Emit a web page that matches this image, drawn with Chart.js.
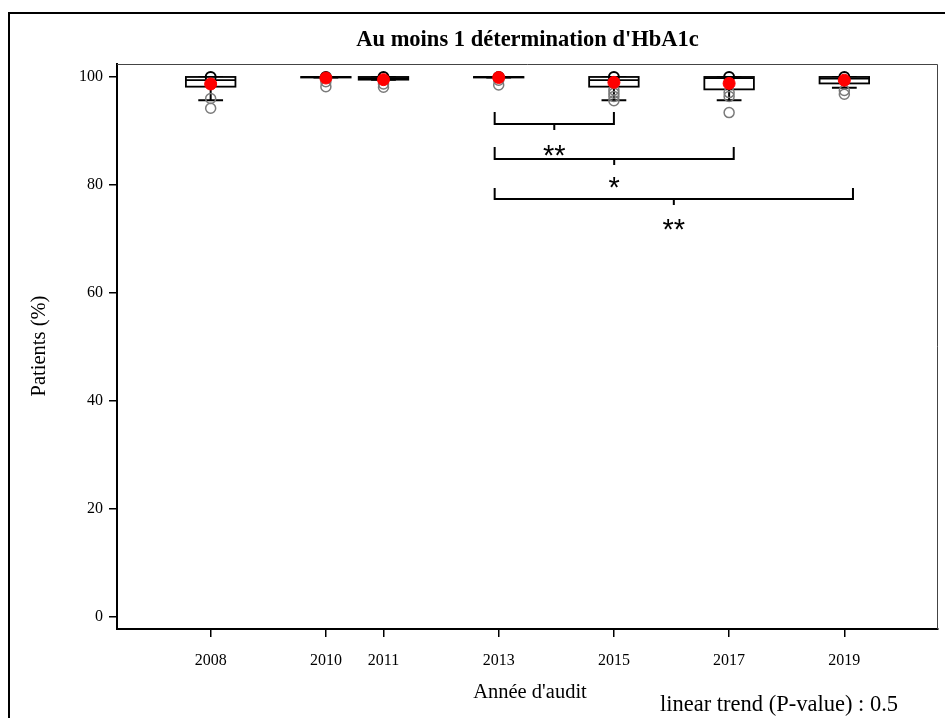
<!DOCTYPE html>
<html>
<head>
<meta charset="utf-8">
<script src="https://cdn.jsdelivr.net/npm/chart.js@4/dist/chart.umd.min.js"></script>
<style>
  html, body { margin: 0; padding: 0; background: #fff; }
  canvas { display: block; }
</style>
</head>
<body>
<canvas id="hba1c" width="945" height="718"></canvas>
<script>
// audit years and box summaries (% patients)
const years = [2008, 2010, 2011, 2013, 2015, 2017, 2019];
const q1 = [98.2, 99.9, 99.5, 99.9, 98.2, 97.7, 98.8];
const median = [99.4, 100, 99.8, 100, 99.4, 99.8, 99.7];
const q3 = [100, 100, 100, 100, 100, 100, 100];
const whiskerLow = [95.7, 99.9, 99.5, 99.9, 95.7, 95.7, 98.0];
const whiskerHigh = [100, 100, 100, 100, 100, 100, 100];
const means = [98.7, 99.8, 99.5, 99.9, 99.0, 98.8, 99.4];

// outliers
const outlierYears = [2008, 2008, 2010, 2010, 2011, 2011, 2013, 2013, 2015, 2015, 2015, 2015, 2017, 2017, 2017, 2019, 2019];
const outlierValues = [96.0, 94.2, 99.1, 98.2, 98.7, 98.1, 99.4, 98.5, 97.6, 97.0, 96.4, 95.6, 97.1, 96.4, 93.4, 97.5, 96.8];

// significance brackets: from, to, leg top, bar level, label
const bracketFrom = [2012.93, 2012.93, 2012.93];
const bracketTo = [2015, 2017.08, 2019.15];
const bracketTop = [93.5, 87.0, 79.4];
const bracketBar = [91.3, 84.8, 77.4];
const bracketStars = ['**', '*', '**'];
const bracketLabelY = [86.9, 80.9, 73.1];

const yTicks = [0, 20, 40, 60, 80, 100];

const titleText = "Au moins 1 détermination d'HbA1c";
const xTitle = "Année d'audit";
const yTitle = 'Patients (%)';
const noteText = 'linear trend (P-value) : 0.5';

const SERIF = '"Liberation Serif", "Times New Roman", serif';
const BOX_W = 0.86;   // in years
const CAP_W = 0.43;
const STAR_PX = 29;

const boxPlugin = {
  id: 'boxes',
  beforeDatasetsDraw(chart) {
    const { ctx, scales: { x, y } } = chart;
    ctx.save();
    ctx.strokeStyle = '#000';
    years.forEach((yr, i) => {
      const cx = x.getPixelForValue(yr);
      const hw = x.getPixelForValue(yr + BOX_W / 2) - cx;
      const cw = x.getPixelForValue(yr + CAP_W / 2) - cx;
      const top = y.getPixelForValue(q3[i]);
      const bot = y.getPixelForValue(q1[i]);
      const lo = y.getPixelForValue(whiskerLow[i]);
      const hi = y.getPixelForValue(whiskerHigh[i]);
      // whiskers
      ctx.lineWidth = 2;
      ctx.beginPath();
      ctx.moveTo(cx, bot); ctx.lineTo(cx, lo);
      ctx.moveTo(cx, top); ctx.lineTo(cx, hi);
      ctx.moveTo(cx - cw, lo); ctx.lineTo(cx + cw, lo);
      ctx.moveTo(cx - cw, hi); ctx.lineTo(cx + cw, hi);
      ctx.stroke();
      // box
      ctx.lineWidth = 1.8;
      ctx.fillStyle = '#fff';
      ctx.fillRect(cx - hw, top, hw * 2, bot - top);
      ctx.strokeRect(cx - hw, top, hw * 2, bot - top);
      const my = y.getPixelForValue(median[i]);
      ctx.beginPath();
      ctx.moveTo(cx - hw, my); ctx.lineTo(cx + hw, my);
      ctx.stroke();
    });
    ctx.restore();
  },
  afterDatasetsDraw(chart) {
    const { ctx, scales: { x, y } } = chart;
    ctx.save();
    ctx.strokeStyle = '#000';
    ctx.lineWidth = 2;
    ctx.fillStyle = '#000';
    ctx.font = STAR_PX + 'px "Liberation Sans", Arial, sans-serif';
    ctx.textAlign = 'center';
    bracketFrom.forEach((a, i) => {
      const x1 = x.getPixelForValue(a);
      const x2 = x.getPixelForValue(bracketTo[i]);
      const yt = y.getPixelForValue(bracketTop[i]);
      const yb = y.getPixelForValue(bracketBar[i]);
      const mid = (x1 + x2) / 2;
      ctx.beginPath();
      ctx.moveTo(x1, yt); ctx.lineTo(x1, yb); ctx.lineTo(x2, yb); ctx.lineTo(x2, yt);
      ctx.moveTo(mid, yb); ctx.lineTo(mid, yb + 6);
      ctx.stroke();
      ctx.fillText(bracketStars[i], mid, y.getPixelForValue(bracketLabelY[i]) + STAR_PX * 0.59);
    });
    ctx.restore();
  }
};

const framePlugin = {
  id: 'frame',
  beforeDraw(chart) {
    const { ctx, width, height } = chart;
    ctx.save();
    ctx.fillStyle = '#fff';
    ctx.fillRect(0, 0, width, height);
    ctx.strokeStyle = '#000';
    ctx.lineWidth = 2;
    ctx.beginPath();
    ctx.moveTo(9, height); ctx.lineTo(9, 13); ctx.lineTo(width, 13);
    ctx.stroke();
    ctx.restore();
  },
  afterDraw(chart) {
    const { ctx, chartArea: a } = chart;
    ctx.save();
    ctx.strokeStyle = '#444';
    ctx.lineWidth = 1;
    ctx.beginPath();
    ctx.moveTo(a.left, a.top + 0.5); ctx.lineTo(a.right - 0.5, a.top + 0.5); ctx.lineTo(a.right - 0.5, a.bottom);
    ctx.stroke();

    ctx.fillStyle = '#000';
    ctx.textAlign = 'center';
    ctx.textBaseline = 'middle';
    ctx.font = 'bold 22.5px ' + SERIF;
    ctx.fillText(titleText, (a.left + a.right) / 2, 40);
    ctx.font = '20.5px ' + SERIF;
    ctx.fillText(xTitle, 530, 693);
    ctx.save();
    ctx.translate(40, 346);
    ctx.rotate(-Math.PI / 2);
    ctx.fillText(yTitle, 0, 0);
    ctx.restore();
    ctx.textAlign = 'left';
    ctx.font = '22.5px ' + SERIF;
    ctx.fillText(noteText, 660, 705);
    ctx.restore();
  }
};

new Chart(document.getElementById('hba1c'), {
  type: 'scatter',
  data: {
    datasets: [
      {
        label: 'Moyenne',
        data: years.map((yr, i) => ({ x: yr, y: means[i] })),
        pointStyle: 'circle',
        pointRadius: 6,
        backgroundColor: '#ff0000',
        borderColor: '#ff0000',
        borderWidth: 1
      },
      {
        label: 'Max',
        data: years.map((yr, i) => ({ x: yr, y: whiskerHigh[i] })),
        pointStyle: 'circle',
        pointRadius: 5,
        backgroundColor: 'rgba(0,0,0,0)',
        borderColor: '#000',
        borderWidth: 2
      },
      {
        label: 'Valeurs extrêmes',
        data: outlierYears.map((yr, i) => ({ x: yr, y: outlierValues[i] })),
        pointStyle: 'circle',
        pointRadius: 5,
        backgroundColor: 'rgba(0,0,0,0)',
        borderColor: '#7a7a7a',
        borderWidth: 1.5
      }
    ]
  },
  options: {
    responsive: false,
    animation: false,
    devicePixelRatio: 1,
    layout: { padding: { top: 64, right: 4, left: 0, bottom: 0 } },
    plugins: { legend: { display: false }, tooltip: { enabled: false }, title: { display: false } },
    scales: {
      x: {
        type: 'linear',
        min: 2006.374,
        max: 2020.626,
        afterBuildTicks: s => { s.ticks = years.map(v => ({ value: v })); },
        afterFit: s => { s.height = 89; },
        ticks: { color: '#000', font: { family: SERIF, size: 16 }, padding: 14, maxRotation: 0, callback: v => String(v) },
        grid: { drawOnChartArea: false, tickLength: 8, color: '#000', lineWidth: 1.5 },
        border: { color: '#000', width: 2 }
      },
      y: {
        type: 'linear',
        min: -2.3,
        max: 102.4,
        afterBuildTicks: s => { s.ticks = yTicks.map(v => ({ value: v })); },
        afterFit: s => { s.width = 117; },
        ticks: { color: '#000', font: { family: SERIF, size: 16 }, padding: 6 },
        grid: { drawOnChartArea: false, tickLength: 8, color: '#000', lineWidth: 1.5 },
        border: { color: '#000', width: 2 }
      }
    }
  },
  plugins: [boxPlugin, framePlugin]
});
</script>
</body>
</html>
